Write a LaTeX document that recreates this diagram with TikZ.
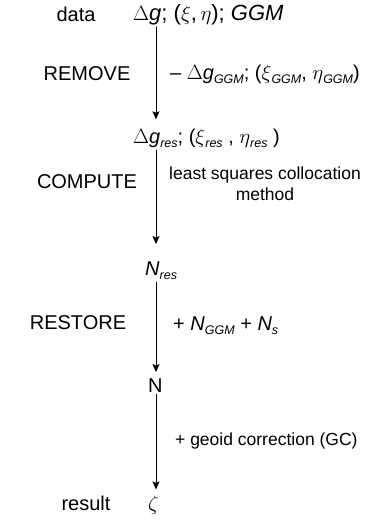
\documentclass[tikz,border=0pt]{standalone}
\usepackage{fontspec}
\setmainfont{Liberation Sans}
\usetikzlibrary{arrows.meta}
\newcommand{\lo}[1]{\raisebox{-0.45ex}{\fontsize{12.5}{12}\selectfont\itshape #1}}

\begin{document}
\begin{tikzpicture}[x=1pt,y=-1pt,line cap=round,line join=round,
  big/.style={inner sep=0pt,font=\fontsize{20}{24}\selectfont},
  small/.style={inner sep=0pt,font=\fontsize{17.5}{21}\selectfont,align=center},
  flow/.style={line width=0.8pt,shorten <=2pt,shorten >=4pt,
    -{Stealth[length=8pt,width=7pt,inset=1.5pt]}}]
  \useasboundingbox (0,0) rectangle (378,520);
  \coordinate (ax) at (156,0);
  % steps on the left
  \node[big,anchor=base] (data) at (76,21) {data};
  \node[big,anchor=base] (remove) at (87,80) {REMOVE};
  \node[big,anchor=base] (compute) at (87,188) {COMPUTE};
  \node[big,anchor=base] (restore) at (78,329) {RESTORE};
  \node[big,anchor=base] (result) at (86,510) {result};
  % quantities along the chain
  \node[big,anchor=base west,font=\fontsize{22}{24}\selectfont] (obs) at (133,20)
    {$\Delta$\textit{g}; ($\xi$,\,$\eta$); \textit{GGM}};
  \node[big,anchor=base west] (res) at (133,143)
    {$\Delta$\textit{g}\lo{res}; ($\xi$\lo{res} , $\eta$\lo{res} )};
  \node[big,anchor=base west] (nres) at (145,275) {\textit{N}\lo{res}};
  \node[big,anchor=base west] (n) at (148,392) {N};
  \node[big,anchor=base west] (zeta) at (148,510) {$\zeta$};
  % what is done on each step
  \node[big,anchor=base west] (rm) at (170,79)
    {\textendash{} $\Delta$\textit{g}\lo{GGM}; ($\xi$\lo{GGM}, $\eta$\lo{GGM})};
  \node[small] (lsc) at (265,184) {least squares collocation\\method};
  \node[big,anchor=base west] (rs) at (173,330)
    {+ \textit{N}\lo{GGM} + \textit{N}\lo{s}};
  \node[small,anchor=base west] (gc) at (175,445) {+ geoid correction (GC)};
  % arrows
  \draw[flow,shorten >=9pt] (obs.south -| ax) -- (res.north -| ax);
  \draw[flow,shorten >=17pt] (res.south -| ax) -- (nres.north -| ax);
  \draw[flow,shorten >=6pt] (nres.south -| ax) -- (n.north -| ax);
  \draw[flow,shorten >=6pt] (n.south -| ax) -- (zeta.north -| ax);
\end{tikzpicture}
\end{document}
